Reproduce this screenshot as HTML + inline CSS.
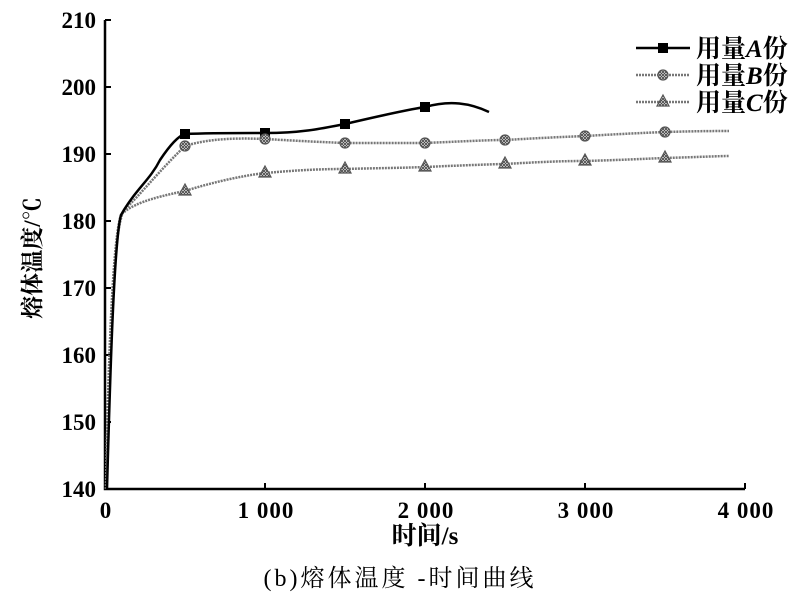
<!DOCTYPE html>
<html><head><meta charset="utf-8"><style>
body{margin:0;background:#fff;}
svg text{font-family:"Liberation Serif","Noto Serif CJK SC",serif;fill:#000;}
</style></head><body>
<svg width="800" height="600" viewBox="0 0 800 600">
<defs>
<pattern id="hat" width="3" height="3" patternUnits="userSpaceOnUse"><rect width="3" height="3" fill="#fff"/><path d="M0 0L3 3M3 0L0 3" stroke="#444" stroke-width="0.9"/></pattern>
</defs>
<path d="M105 20V489H745" fill="none" stroke="#000" stroke-width="2.5"/>
<g stroke="#000" stroke-width="2">
<path d="M105 20h6M105 87h6M105 154h6M105 221h6M105 288h6M105 355h6M105 422h6"/>
<path d="M265 489v-6M425 489v-6M585 489v-6M745 489v-6"/>
</g>
<g font-size="23" font-weight="bold" text-anchor="end">
<text x="96" y="28">210</text><text x="96" y="95">200</text><text x="96" y="162">190</text>
<text x="96" y="229">180</text><text x="96" y="296">170</text><text x="96" y="363">160</text>
<text x="96" y="430">150</text><text x="96" y="497">140</text>
</g>
<g font-size="23" font-weight="bold" text-anchor="middle" letter-spacing="1">
<text x="106" y="518">0</text><text x="266" y="518">1 000</text><text x="426" y="518">2 000</text>
<text x="586" y="518">3 000</text><text x="746" y="518">4 000</text>
</g>
<text x="425" y="544" font-size="25" font-weight="bold" text-anchor="middle">时间/s</text>
<text transform="translate(40,258) rotate(-90)" font-size="23" font-weight="bold" text-anchor="middle">熔体温度/℃</text>
<text x="400" y="586" font-size="24" text-anchor="middle" letter-spacing="3">(b)熔体温度 -时间曲线</text>
<path d="M106 489C108 380 112 240 121 215C130 205 150 198 185 191C210 183 240 176 265 173C300 170 320 169 345 169C380 168 400 168 425 167C470 165 500 164 505 164C540 162 560 161 585 161C620 160 640 159 665 158C700 157 720 156 729 156" fill="none" stroke="#777" stroke-width="2.5" stroke-dasharray="2 1"/>
<path d="M106 489C108 380 112 230 124 210C140 195 160 170 185 146C210 138 240 138 265 139C300 141 320 142 345 143C380 143 400 143 425 143C470 141 490 140 505 140C540 138 560 137 585 136C620 134 640 133 665 132C700 131 720 131 729 131" fill="none" stroke="#777" stroke-width="2.5" stroke-dasharray="2 1"/>
<path d="M107 489C110 380 114 240 121 215C135 190 150 180 160 160C170 145 178 136 185 134C210 133 240 133 265 133C300 133 320 129 345 124C380 116 400 111 425 107C450 100 470 103 489 112" fill="none" stroke="#000" stroke-width="2.5"/>
<g fill="#000"><rect x="180" y="129" width="10" height="10"/><rect x="260" y="128" width="10" height="10"/><rect x="340" y="119" width="10" height="10"/><rect x="420" y="102" width="10" height="10"/></g>
<g fill="url(#hat)" stroke="#555" stroke-width="1.2">
<circle cx="185" cy="146" r="5"/><circle cx="265" cy="139" r="5"/><circle cx="345" cy="143" r="5"/><circle cx="425" cy="143" r="5"/><circle cx="505" cy="140" r="5"/><circle cx="585" cy="136" r="5"/><circle cx="665" cy="132" r="5"/>
<path d="M185 184l6 11h-12z"/><path d="M265 166l6 11h-12z"/><path d="M345 162l6 11h-12z"/><path d="M425 160l6 11h-12z"/><path d="M505 157l6 11h-12z"/><path d="M585 154l6 11h-12z"/><path d="M665 151l6 11h-12z"/>
</g>
<path d="M636 48H690" stroke="#000" stroke-width="2.5"/><rect x="658" y="43" width="10" height="10" fill="#000"/>
<path d="M636 75H690M636 102H690" stroke="#777" stroke-width="2.5" stroke-dasharray="2 1"/>
<circle cx="663" cy="75" r="5" fill="url(#hat)" stroke="#555" stroke-width="1.2"/>
<path d="M663 95l6 11h-12z" fill="url(#hat)" stroke="#555" stroke-width="1.2"/>
<g font-size="25" font-weight="bold">
<text x="696" y="57">用量<tspan font-style="italic">A</tspan>份</text>
<text x="696" y="84">用量<tspan font-style="italic">B</tspan>份</text>
<text x="696" y="111">用量<tspan font-style="italic">C</tspan>份</text>
</g>
</svg>
</body></html>
